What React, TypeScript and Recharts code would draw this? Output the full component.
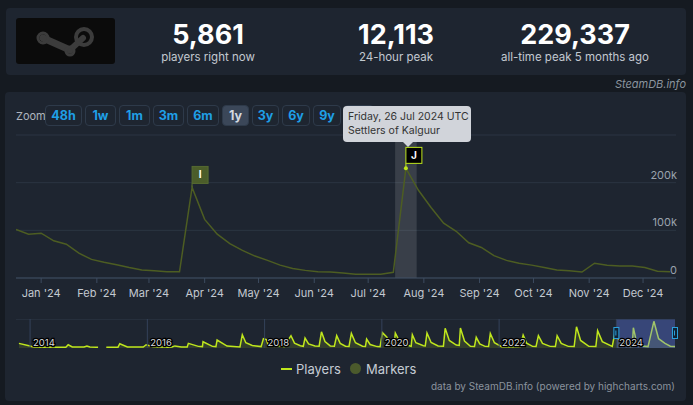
import {
  LineChart,
  Line,
  XAxis,
  YAxis,
  CartesianGrid,
  ReferenceArea,
  ReferenceDot,
  ReferenceLine,
  AreaChart,
  Area,
} from 'recharts';

const FONT = "Inter, 'Noto Sans', sans-serif";

// weekly player counts (thousands), first week starts 18 Dec 2023
const firstWeek = Date.UTC(2023, 11, 18);
const WEEK = 7 * 86400000;
const weeklyPlayers = [
  102, 92, 94, 78, 71, 52, 39, 33, 28, 22, 17, 15, 13, 13, 190, 123, 92, 72, 58, 46, 37, 27, 20,
  16, 13, 12.5, 10.5, 8, 8, 8, 12, 230, 184, 148, 115, 98, 74, 64, 47, 37, 31, 27, 22, 17, 15,
  12.6, 31, 27, 25, 25, 22, 14, 13,
];
const markerI = 14; // week index of flag "I"
const markerJ = 31; // week index of flag "J"

const monthNames = ['Jan', 'Feb', 'Mar', 'Apr', 'May', 'Jun', 'Jul', 'Aug', 'Sep', 'Oct', 'Nov', 'Dec'];
const monthTicks = monthNames.map((_, m) => Date.UTC(2024, m, 1));
const yTicks = [0, 100, 200, 300];

// navigator: whole history (decimal year, thousands)
const navYears = [
  2013.81, 2014.0, 2014.07, 2014.48, 2014.61, 2014.65, 2014.72, 2014.92, 2014.97, 2015.02, 2015.16,
  2015.22, 2015.3, 2015.5, 2015.53, 2015.66, 2015.93, 2015.98, 2016.1, 2016.34, 2016.42, 2016.47,
  2016.58, 2016.68, 2016.7, 2016.87, 2016.94, 2016.95, 2017.11, 2017.17, 2017.19, 2017.36, 2017.58,
  2017.62, 2017.68, 2017.79, 2017.94, 2017.98, 2018.03, 2018.06, 2018.3, 2018.33, 2018.45, 2018.51,
  2018.61, 2018.66, 2018.69, 2018.75, 2018.86, 2018.93, 2018.97, 2019.03, 2019.12, 2019.19, 2019.23,
  2019.29, 2019.38, 2019.44, 2019.48, 2019.55, 2019.67, 2019.72, 2019.74, 2019.8, 2019.92, 2019.97,
  2020.01, 2020.09, 2020.14, 2020.21, 2020.23, 2020.3, 2020.48, 2020.5, 2020.52, 2020.58, 2020.71,
  2020.74, 2020.77, 2020.84, 2020.96, 2021.05, 2021.08, 2021.15, 2021.27, 2021.32, 2021.34, 2021.41,
  2021.51, 2021.58, 2021.61, 2021.67, 2021.76, 2021.82, 2021.85, 2021.92, 2022.05, 2022.36, 2022.41,
  2022.47, 2022.57, 2022.63, 2022.67, 2022.74, 2022.87, 2022.96, 2022.99, 2023.06, 2023.18, 2023.28,
  2023.32, 2023.39, 2023.53, 2023.65, 2023.68, 2023.76, 2023.93, 2023.97, 2024.03, 2024.2, 2024.27,
  2024.29, 2024.34, 2024.4, 2024.54, 2024.64, 2024.72, 2024.83, 2024.92, 2025.0,
];
const navPlayers: (number | null)[] = [
  40, 17, 6, 6, 7, 28, 9, 8, 17, 8, 6,
  null, 6, 7, 37, 9, 8, 28, 10, 6, 8, 18,
  9, 8, 40, 14, 12, 54, 14, 12, 69, 17, 9,
  115, 45, 22, 12, 80, 72, 30, 14, 12, 106, 42,
  20, 15, 86, 35, 18, 16, 140, 55, 18, 16, 106,
  40, 15, 14, 126, 45, 15, 14, 77, 30, 12, 11,
  132, 90, 40, 30, 129, 60, 17, 15, 115, 45, 20,
  18, 129, 48, 17, 16, 170, 65, 25, 22, 172, 60,
  14, 13, 92, 35, 14, 13, 126, 45, 9, 10, 112,
  42, 14, 13, 106, 40, 14, 13, 106, 40, 14, 13,
  183, 65, 14, 13, 149, 55, 14, 120, 80, 14, 13,
  175, 60, 20, 12, 230, 80, 40, 15, 13,
];
const navYearLines = [2014, 2016, 2018, 2020, 2022, 2024];

const zoomButtons = ['48h', '1w', '1m', '3m', '6m', '1y', '3y', '6y', '9y', 'max'];
const zoomWidths = [37, 31, 31, 31, 32, 27, 27, 28, 28, 30];
const activeZoom = '1y';

const stats = [
  { value: '5,861', label: 'players right now', cx: 208 },
  { value: '12,113', label: '24-hour peak', cx: 396 },
  { value: '229,337', label: 'all-time peak 5 months ago', cx: 575 },
];

const LIME = '#bfe61d';
const OLIVE = '#4d5d22';

function SteamLogo() {
  return (
    <svg width={99} height={46} style={{ position: 'absolute', left: 16, top: 18 }}>
      <rect x={0} y={0} width={99} height={46} rx={3} fill="#0b0b0b" />
      <g stroke="#3c3c3c" fill="none">
        <line x1={27} y1={20} x2={54} y2={32} strokeWidth={7} strokeLinecap="round" />
        <line x1={54} y1={32} x2={67} y2={20} strokeWidth={6} strokeLinecap="round" />
        <circle cx={68} cy={19} r={8} strokeWidth={4} />
        <circle cx={27} cy={20} r={5} strokeWidth={3} />
        <circle cx={54} cy={33} r={4} strokeWidth={3} />
      </g>
    </svg>
  );
}

export default function App() {
  const mainData = weeklyPlayers.map((v, i) => ({ t: firstWeek + i * WEEK, players: v }));
  const navData = navYears.map((y, i) => ({ year: y, players: navPlayers[i] }));
  const xStart = firstWeek;
  const xEnd = Date.UTC(2024, 11, 19, 8);

  const renderYTick = (p: any) => {
    if (p.payload.value === 300) return <g />;
    const label = p.payload.value === 0 ? '0' : `${p.payload.value}k`;
    return (
      <text x={p.x + 1} y={p.y - 4} textAnchor="end" fill="#9aa3ad" fontSize={11}>
        {label}
      </text>
    );
  };

  return (
    <div
      style={{
        position: 'fixed',
        left: 0,
        top: 0,
        width: 693,
        height: 405,
        background: '#151a21',
        fontFamily: FONT,
        overflow: 'hidden',
      }}
    >
      {/* header */}
      <div
        style={{
          position: 'absolute',
          left: 6,
          top: 8,
          width: 680,
          height: 67,
          background: '#1e2530',
          borderRadius: 4,
        }}
      />
      <SteamLogo />
      {stats.map((s) => (
        <div key={s.value}>
          <div
            style={{
              position: 'absolute',
              left: s.cx - 90,
              width: 180,
              top: 19,
              textAlign: 'center',
              fontSize: 27,
              fontWeight: 700,
              color: '#ffffff',
              lineHeight: '32px',
            }}
          >
            {s.value}
          </div>
          <div
            style={{
              position: 'absolute',
              left: s.cx - 90,
              width: 180,
              top: 50,
              textAlign: 'center',
              fontSize: 11.5,
              color: '#c3c9d0',
              lineHeight: '14px',
            }}
          >
            {s.label}
          </div>
        </div>
      ))}
      <div
        style={{
          position: 'absolute',
          right: 7,
          top: 77,
          fontSize: 11,
          fontStyle: 'italic',
          color: '#8b949e',
        }}
      >
        SteamDB.info
      </div>

      {/* chart panel */}
      <div
        style={{
          position: 'absolute',
          left: 5,
          top: 92,
          width: 681,
          height: 309,
          background: '#1e2530',
          borderRadius: 4,
        }}
      />

      {/* zoom buttons */}
      <div
        style={{ position: 'absolute', left: 16, top: 109, fontSize: 11, color: '#aeb5be' }}
      >
        Zoom
      </div>
      <div style={{ position: 'absolute', left: 45, top: 105, display: 'flex', gap: 3 }}>
        {zoomButtons.map((z, i) => (
          <div
            key={z}
            style={{
              width: zoomWidths[i],
              height: 21,
              boxSizing: 'border-box',
              border: '1px solid #2e3a4a',
              borderRadius: 4,
              background: z === activeZoom ? '#3b4759' : 'transparent',
              color: z === activeZoom ? '#d3d9e0' : '#1f9fe6',
              fontSize: 12.5,
              fontWeight: 700,
              lineHeight: '19px',
              textAlign: 'center',
            }}
          >
            {z}
          </div>
        ))}
      </div>

      {/* main chart */}
      <div style={{ position: 'absolute', left: 0, top: 130 }}>
        <LineChart
          width={693}
          height={175}
          data={mainData}
          margin={{ top: 5, right: 17, bottom: 0, left: 16 }}
        >
          <CartesianGrid vertical={false} stroke="#2b3542" />
          <ReferenceArea
            x1={Date.UTC(2024, 6, 16)}
            x2={Date.UTC(2024, 6, 28)}
            y1={0}
            y2={300}
            fill="#ffffff"
            fillOpacity={0.12}
            stroke="none"
          />
          <XAxis
            dataKey="t"
            type="number"
            domain={[xStart, xEnd]}
            allowDataOverflow
            ticks={monthTicks}
            tickFormatter={(t: number) => `${monthNames[new Date(t).getUTCMonth()]} '24`}
            height={27}
            stroke="#3d4c60"
            tickSize={5}
            tickMargin={6}
            tick={{ fill: '#c3c9d1', fontSize: 11 }}
            interval={0}
          />
          <YAxis
            orientation="right"
            mirror
            width={1}
            domain={[0, 300]}
            ticks={yTicks}
            axisLine={false}
            tickLine={false}
            tickSize={0}
            tickMargin={0}
            tick={renderYTick}
          />
          <Line
            type="linear"
            dataKey="players"
            stroke={OLIVE}
            strokeWidth={1.5}
            dot={false}
            activeDot={false}
            isAnimationActive={false}
          />
          <ReferenceDot
            x={mainData[markerI].t}
            y={mainData[markerI].players}
            shape={(p: any) => (
              <g>
                <line x1={p.cx} y1={p.cy} x2={p.cx} y2={p.cy - 4} stroke="#5a6e30" />
                <rect x={p.cx} y={p.cy - 21} width={16} height={17} fill="#4b5d2a" stroke="#566b31" />
                <text
                  x={p.cx + 8}
                  y={p.cy - 9}
                  textAnchor="middle"
                  fill="#ffffff"
                  fontSize={10}
                  fontWeight={700}
                >
                  I
                </text>
              </g>
            )}
          />
          <ReferenceDot
            x={mainData[markerJ].t}
            y={mainData[markerJ].players}
            shape={(p: any) => (
              <g>
                <line x1={p.cx} y1={p.cy} x2={p.cx} y2={p.cy - 5} stroke={LIME} />
                <rect x={p.cx} y={p.cy - 21} width={16} height={16} fill="#000000" stroke={LIME} />
                <text
                  x={p.cx + 8}
                  y={p.cy - 9.5}
                  textAnchor="middle"
                  fill="#ffffff"
                  fontSize={10}
                  fontWeight={700}
                >
                  J
                </text>
                <circle cx={p.cx} cy={p.cy} r={2} fill={LIME} />
              </g>
            )}
          />
        </LineChart>
      </div>

      {/* navigator */}
      <div style={{ position: 'absolute', left: 0, top: 319 }}>
        <AreaChart
          width={693}
          height={29}
          data={navData}
          margin={{ top: 0, right: 18, bottom: 0, left: 16 }}
        >
          <XAxis dataKey="year" type="number" domain={[2013.76, 2025.0]} hide allowDataOverflow />
          <YAxis domain={[0, 250]} hide allowDataOverflow />
          <ReferenceLine y={250} stroke="#2f3a49" />
          {navYearLines.map((y) => (
            <ReferenceLine
              key={y}
              x={y}
              stroke="#34425a"
              label={(p: any) => (
                <text
                  x={p.viewBox.x + 3}
                  y={p.viewBox.y + p.viewBox.height - 2}
                  fontSize={9.5}
                  fill="#d8dadd"
                  stroke="#000000"
                  strokeWidth={2.5}
                  paintOrder="stroke"
                >
                  {y}
                </text>
              )}
            />
          ))}
          <Area
            type="linear"
            dataKey="players"
            stroke={LIME}
            strokeWidth={1.5}
            fill={LIME}
            fillOpacity={0.13}
            dot={false}
            activeDot={false}
            isAnimationActive={false}
          />
          <ReferenceArea
            x1={2024.0}
            x2={2025.0}
            y1={0}
            y2={250}
            fill="rgb(102,133,255)"
            fillOpacity={0.35}
            stroke="none"
          />
          {[2024.0, 2025.0].map((h) => (
            <ReferenceDot
              key={h}
              x={h}
              y={125}
              shape={(p: any) => (
                <g>
                  <rect
                    x={p.cx - 2.5}
                    y={p.cy - 6}
                    width={5}
                    height={11}
                    fill="#102234"
                    stroke="#2aa0dc"
                  />
                  <line x1={p.cx - 0.5} y1={p.cy - 3} x2={p.cx - 0.5} y2={p.cy + 2} stroke="#2aa0dc" />
                </g>
              )}
            />
          ))}
        </AreaChart>
      </div>

      {/* tooltip */}
      <div
        style={{
          position: 'absolute',
          left: 343,
          top: 106,
          width: 128,
          height: 36,
          boxSizing: 'border-box',
          background: 'rgba(216,220,225,0.96)',
          borderRadius: 4,
          padding: '4px 5px',
          fontSize: 10.5,
          lineHeight: '14px',
          color: '#333333',
          whiteSpace: 'nowrap',
        }}
      >
        <div>Friday, 26 Jul 2024 UTC</div>
        <div>Settlers of Kalguur</div>
      </div>
      <div
        style={{
          position: 'absolute',
          left: 403,
          top: 142,
          width: 0,
          height: 0,
          borderLeft: '5px solid transparent',
          borderRight: '5px solid transparent',
          borderTop: '5px solid rgba(216,220,225,0.96)',
        }}
      />

      {/* legend */}
      <div
        style={{ position: 'absolute', left: 281, top: 368, width: 11, height: 2, background: LIME }}
      />
      <div
        style={{ position: 'absolute', left: 296, top: 361, fontSize: 13, color: '#c5ccd4' }}
      >
        Players
      </div>
      <div
        style={{
          position: 'absolute',
          left: 350,
          top: 363,
          width: 11,
          height: 11,
          borderRadius: '50%',
          background: '#4b5a2c',
        }}
      />
      <div
        style={{ position: 'absolute', left: 366, top: 361, fontSize: 13, color: '#c5ccd4' }}
      >
        Markers
      </div>
      <div
        style={{
          position: 'absolute',
          right: 18,
          top: 380,
          fontSize: 10,
          color: '#8b939e',
        }}
      >
        data by SteamDB.info (powered by highcharts.com)
      </div>
    </div>
  );
}
